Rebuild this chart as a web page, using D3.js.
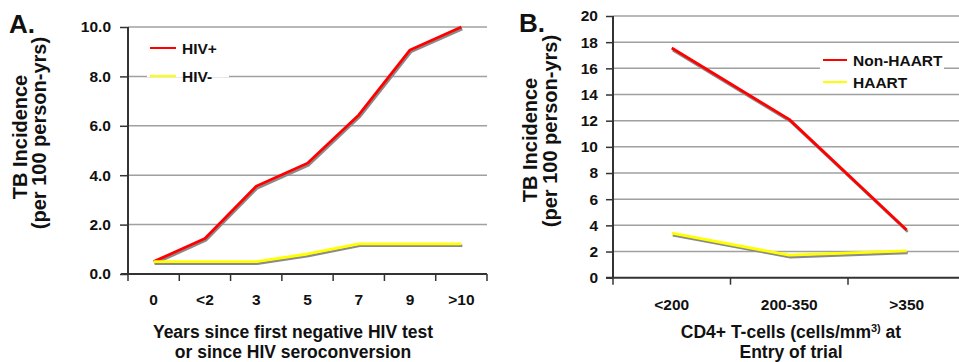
<!DOCTYPE html>
<html><head><meta charset="utf-8">
<script src="https://cdn.jsdelivr.net/npm/d3@7"></script>
<style>
body{margin:0;background:#fff;}
svg{display:block;font-family:"Liberation Sans",Arial,sans-serif;font-weight:bold;}
</style></head>
<body><svg id="c" width="959" height="362"></svg>
<script>
// Panel A data
const catsA = ["0","<2","3","5","7","9",">10"];
const hivPos = [0.5,1.44,3.55,4.48,6.44,9.07,10.0];
const hivNeg = [0.5,0.5,0.5,0.81,1.22,1.22,1.22];
const ticksA = [0,2,4,6,8,10];
// Panel B data
const catsB = ["<200","200-350",">350"];
const nonHaart = [17.55,12.1,3.65];
const haart = [3.4,1.72,2.05];
const ticksB = [0,2,4,6,8,10,12,14,16,18,20];

const svg = d3.select("#c");
const RED="#ff0000", YEL="#ffff00", SHADOW="#8a8a8a", GRID="#a0a0a0", AX="#333";
const FONT="Liberation Sans, Arial, sans-serif";

function panel(o){
  const g = svg.append("g");
  const x = d3.scaleBand().domain(o.cats).range([o.x0,o.x1]);
  const y = d3.scaleLinear().domain(o.ydom).range([o.y0,o.y1]);
  // gridlines
  g.append("g").selectAll("line").data(o.ticks.filter(t=>t>0)).join("line")
    .attr("x1",o.x0).attr("x2",o.gx1).attr("y1",d=>y(d)).attr("y2",d=>y(d))
    .attr("stroke",GRID).attr("stroke-width",1.5);
  // legend box (white) with entries
  const lg = g.append("g");
  lg.append("rect").attr("x",o.leg.x-3).attr("y",o.leg.y-13).attr("width",o.leg.w).attr("height",o.leg.h).attr("fill","#fff");
  o.series.forEach((s,i)=>{
    const ly = o.leg.y + i*o.leg.dy;
    lg.append("line").attr("x1",o.leg.x).attr("x2",o.leg.x+o.leg.len).attr("y1",ly).attr("y2",ly)
      .attr("stroke",s.color).attr("stroke-width",2);
    lg.append("text").attr("x",o.leg.x+o.leg.len+6).attr("y",ly).attr("dy","0.36em")
      .attr("font-size",15.5).attr("fill","#111").text(s.name);
  });
  // y axis
  const ya = d3.axisLeft(y).tickValues(o.ticks).tickFormat(o.fmt).tickSize(o.ytick).tickPadding(o.ypad);
  const yg = g.append("g").attr("transform",`translate(${o.x0},0)`).call(ya);
  yg.select(".domain").attr("stroke",AX).attr("stroke-width",2).attr("d",`M0,${o.y0}V${o.y1}`);
  yg.selectAll(".tick line").attr("stroke",AX).attr("stroke-width",1.5);
  yg.selectAll(".tick text").attr("font-size",15.5).attr("fill","#111").attr("font-family",FONT).attr("font-weight","bold");
  // x axis
  const xa = d3.axisBottom(x).tickSize(0).tickPadding(o.xpad);
  const xg = g.append("g").attr("transform",`translate(0,${o.y0})`).call(xa);
  xg.select(".domain").attr("stroke",AX).attr("stroke-width",2).attr("d",`M${o.x0-7},0H${o.gx1}`);
  xg.selectAll(".tick text").attr("font-size",15.5).attr("fill","#111").attr("font-family",FONT).attr("font-weight","bold");
  // boundary ticks
  const bounds = o.cats.map(c=>x(c)).concat([x(o.cats[o.cats.length-1])+x.bandwidth()]).filter(v=>v<=958);
  g.append("g").selectAll("line").data(bounds).join("line")
    .attr("x1",d=>d).attr("x2",d=>d).attr("y1",o.y0).attr("y2",o.y0+7).attr("stroke",AX).attr("stroke-width",1.5);
  // series with shadow
  const line = d3.line().x((d,i)=>x(o.cats[i])+x.bandwidth()/2).y(d=>y(d));
  o.series.forEach(s=>{
    g.append("path").datum(s.values).attr("d",line).attr("fill","none")
      .attr("stroke",SHADOW).attr("stroke-width",2.5).attr("transform","translate(1,2)").attr("stroke-linejoin","round");
  });
  o.series.forEach(s=>{
    g.append("path").datum(s.values).attr("d",line).attr("fill","none")
      .attr("stroke",s.color).attr("stroke-width",2.8).attr("stroke-linejoin","round");
  });
  // panel letter
  g.append("text").attr("x",o.letter[0]).attr("y",o.letter[1]).attr("font-size",26).attr("fill","#111").text(o.letterText);
  // y title (two rotated lines)
  g.append("text").attr("transform",`translate(${o.yt1[0]},${o.yt1[1]}) rotate(-90)`)
    .attr("text-anchor","middle").attr("font-size",20).attr("fill","#111").text("TB Incidence");
  g.append("text").attr("transform",`translate(${o.yt2[0]},${o.yt2[1]}) rotate(-90)`)
    .attr("text-anchor","middle").attr("font-size",20).attr("fill","#111").text("(per 100 person-yrs)");
  return {g,x,y};
}

const A = panel({
  cats:catsA, x0:128, x1:487, gx1:487, ydom:[0,10], y0:274, y1:27, ticks:ticksA,
  fmt:d3.format(".1f"), xpad:20, ytick:8, ypad:9,
  series:[{name:"HIV+",color:RED,values:hivPos},{name:"HIV-",color:YEL,values:hivNeg}],
  leg:{x:150,y:48,dy:28,len:26,w:82,h:42},
  letter:[9,33], letterText:"A.",
  yt1:[27,137], yt2:[46,133]
});
const B = panel({
  cats:catsB, x0:613, x1:965.5, gx1:959, ydom:[0,20], y0:277.7, y1:16, ticks:ticksB,
  fmt:d3.format("d"), xpad:21, ytick:7, ypad:8,
  series:[{name:"Non-HAART",color:RED,values:nonHaart},{name:"HAART",color:YEL,values:haart}],
  leg:{x:823,y:60,dy:22,len:24,w:124,h:36},
  letter:[519,32], letterText:"B.",
  yt1:[537,140], yt2:[557,131]
});

// x titles
const tA = svg.append("text").attr("text-anchor","middle").attr("font-size",17.5).attr("fill","#111");
tA.append("tspan").attr("x",293).attr("y",338).text("Years since first negative HIV test");
tA.append("tspan").attr("x",293).attr("y",358).text("or since HIV seroconversion");
const tB = svg.append("text").attr("text-anchor","middle").attr("font-size",17.5).attr("fill","#111");
const l1 = tB.append("tspan").attr("x",791).attr("y",338);
l1.append("tspan").text("CD4+ T-cells (cells/mm");
l1.append("tspan").attr("font-size",11).attr("dy",-6).text("3)");
l1.append("tspan").attr("dy",6).text(" at");
tB.append("tspan").attr("x",791).attr("y",358).text("Entry of trial");
</script></body></html>
